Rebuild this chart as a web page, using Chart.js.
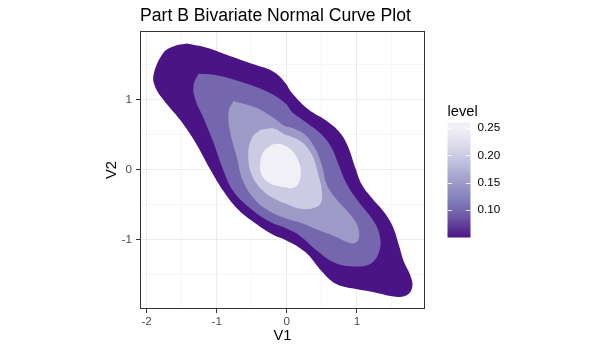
<!DOCTYPE html>
<html>
<head>
<meta charset="utf-8">
<script src="https://cdn.jsdelivr.net/npm/chart.js@4.4.1/dist/chart.umd.min.js"></script>
<style>
  html, body { margin: 0; padding: 0; background: #fff; }
</style>
</head>
<body>
<canvas id="densityChart" width="614" height="353"></canvas>
<script>
// axis limits, labelled ticks and minor grid breaks
const xLimits = [-2.094, 1.971];
const yLimits = [-1.985, 1.98];
const xTicks = [-2, -1, 0, 1];
const yTicks = [-1, 0, 1];
const xMinor = [-1.5, -0.5, 0.5, 1.5];
const yMinor = [-1.5, -0.5, 0.5, 1.5];

// contour levels (outer -> inner) and the legend breaks
const levels = [0.05, 0.10, 0.15, 0.20, 0.25];
const legendBreaks = [0.10, 0.15, 0.20, 0.25];

// contour outlines, [V1, V2] pairs
const contour05 = [
  [-1.43, 1.80], [-1.14, 1.74], [-0.86, 1.64], [-0.52, 1.52], [-0.19, 1.40],
  [-0.02, 1.24], [0.07, 1.10], [0.31, 0.86], [0.55, 0.71], [0.74, 0.55],
  [0.86, 0.36], [0.98, 0.02], [1.07, -0.21], [1.21, -0.40], [1.40, -0.62],
  [1.52, -0.83], [1.60, -1.08], [1.67, -1.31], [1.76, -1.50], [1.79, -1.67],
  [1.71, -1.79], [1.55, -1.81], [1.21, -1.74], [0.93, -1.69], [0.69, -1.62],
  [0.50, -1.45], [0.26, -1.17], [-0.02, -1.00], [-0.19, -0.93], [-0.48, -0.74],
  [-0.71, -0.55], [-0.90, -0.31], [-1.10, 0.02], [-1.31, 0.40], [-1.52, 0.71],
  [-1.76, 1.00], [-1.88, 1.19], [-1.90, 1.36], [-1.76, 1.67], [-1.62, 1.76],
  [-1.43, 1.80]
];
const contour10 = [
  [-1.26, 1.37], [-1.00, 1.35], [-0.67, 1.26], [-0.29, 1.12], [-0.02, 0.95],
  [0.07, 0.83], [0.26, 0.69], [0.50, 0.50], [0.64, 0.31], [0.74, 0.07],
  [0.86, -0.21], [1.02, -0.45], [1.21, -0.69], [1.31, -0.88], [1.33, -1.12],
  [1.21, -1.33], [0.98, -1.38], [0.69, -1.33], [0.45, -1.17], [0.17, -0.93],
  [-0.02, -0.83], [-0.24, -0.74], [-0.52, -0.55], [-0.76, -0.31], [-0.90, -0.02],
  [-1.05, 0.40], [-1.19, 0.74], [-1.31, 1.02], [-1.33, 1.21], [-1.26, 1.37]
];
const contour15 = [
  [-0.76, 0.98], [-0.43, 0.88], [-0.19, 0.74], [-0.02, 0.62], [0.07, 0.60],
  [0.26, 0.50], [0.40, 0.31], [0.50, 0.07], [0.57, -0.21], [0.69, -0.40],
  [0.93, -0.67], [1.02, -0.83], [1.02, -1.00], [0.93, -1.05], [0.69, -0.95],
  [0.45, -0.86], [0.21, -0.76], [-0.02, -0.69], [-0.19, -0.62], [-0.43, -0.45],
  [-0.62, -0.17], [-0.71, 0.17], [-0.81, 0.55], [-0.83, 0.83], [-0.76, 0.98]
];
const contour20 = [
  [-0.38, 0.57], [-0.19, 0.59], [-0.02, 0.50], [0.05, 0.48], [0.21, 0.40],
  [0.36, 0.21], [0.45, -0.07], [0.50, -0.31], [0.48, -0.48], [0.36, -0.55],
  [0.17, -0.55], [-0.02, -0.48], [-0.10, -0.45], [-0.33, -0.31], [-0.50, -0.07],
  [-0.55, 0.21], [-0.50, 0.45], [-0.38, 0.57]
];
const contour25 = [
  [-0.21, 0.36], [-0.10, 0.37], [-0.02, 0.34], [0.08, 0.27], [0.16, 0.14],
  [0.20, -0.02], [0.17, -0.19], [0.08, -0.26], [-0.02, -0.25], [-0.24, -0.19],
  [-0.36, -0.07], [-0.38, 0.10], [-0.33, 0.26], [-0.21, 0.36]
];
const contours = [contour05, contour10, contour15, contour20, contour25];

// Purples (7), dark -> light, as used by the fill scale
const purples = ["#4A1486", "#6A51A3", "#807DBA", "#9E9AC8", "#BCBDDC", "#DADAEB", "#F2F0F7"];
const bandColors = ["#4A1486", "#7567AE", "#9E9AC8", "#CBCBE3", "#F2F0F7"];

const FONT = "'Liberation Sans', Arial, Helvetica, sans-serif";

const datasets = contours.map((pts, i) => ({
  label: "level " + levels[i],
  data: pts.map(p => ({ x: p[0], y: p[1] })),
  showLine: true,
  fill: "shape",
  tension: 0.4,
  backgroundColor: bandColors[i],
  borderColor: "rgba(0,0,0,0)",
  borderWidth: 0,
  pointRadius: 0,
  order: contours.length - 1 - i
}));

function axisOpts(lim, major, minor, title) {
  const isMajor = v => major.includes(v);
  return {
    type: "linear",
    min: lim[0],
    max: lim[1],
    bounds: "data",
    afterBuildTicks: s => {
      s.ticks = major.concat(minor).sort((a, b) => a - b).map(v => ({ value: v }));
    },
    title: { display: true, text: title, color: "#000", font: { family: FONT, size: 14.7 } },
    border: { display: false },
    grid: {
      color: c => isMajor(c.tick.value) ? "#EBEBEB" : "#F4F4F4",
      lineWidth: c => isMajor(c.tick.value) ? 1 : 0.8,
      tickColor: c => isMajor(c.tick.value) ? "#333333" : "rgba(0,0,0,0)",
      tickLength: 4
    },
    ticks: {
      autoSkip: false,
      maxRotation: 0,
      color: "#4D4D4D",
      font: { family: FONT, size: 11.7 },
      callback: v => isMajor(v) ? String(v) : ""
    }
  };
}

const xAxis = axisOpts(xLimits, xTicks, xMinor, "V1");
xAxis.position = "bottom";
xAxis.title.padding = { top: 0, bottom: 8 };
xAxis.ticks.padding = 2;
xAxis.afterFit = s => { s.height = 44; };

const yAxis = axisOpts(yLimits, yTicks, yMinor, "V2");
yAxis.position = "left";
yAxis.title.padding = { top: 103, bottom: 0 };
yAxis.ticks.padding = 4;
yAxis.afterFit = s => { s.width = 140; };

// panel border, title and colour bar legend
const ggExtras = {
  id: "ggExtras",
  afterDraw(chart) {
    const { ctx, chartArea: a } = chart;
    ctx.save();
    ctx.strokeStyle = "#333333";
    ctx.lineWidth = 1;
    ctx.strokeRect(a.left + 0.5, a.top + 0.5, a.right - a.left - 1, a.bottom - a.top - 1);

    ctx.fillStyle = "#000";
    ctx.font = "17.6px " + FONT;
    ctx.textBaseline = "alphabetic";
    ctx.textAlign = "left";
    ctx.fillText("Part B Bivariate Normal Curve Plot", a.left, 20.5);

    // colour bar
    const barL = 447.5, barW = 23, barT = 122.5, barB = 237.5;
    const lo = levels[0], hi = levels[levels.length - 1];
    const yLo = 237.3, yHi = 128;
    const valY = v => yLo - (v - lo) / (hi - lo) * (yLo - yHi);
    const grad = ctx.createLinearGradient(0, yLo, 0, yHi);
    purples.forEach((c, i) => grad.addColorStop(i / (purples.length - 1), c));
    ctx.fillStyle = grad;
    ctx.fillRect(barL, barT, barW, barB - barT);

    ctx.strokeStyle = "rgba(255,255,255,0.85)";
    ctx.lineWidth = 1;
    ctx.font = "11.7px " + FONT;
    ctx.fillStyle = "#000";
    ctx.textBaseline = "middle";
    legendBreaks.forEach(v => {
      const y = Math.round(valY(v)) + 0.5;
      ctx.beginPath();
      ctx.moveTo(barL, y); ctx.lineTo(barL + 4.6, y);
      ctx.moveTo(barL + barW - 4.6, y); ctx.lineTo(barL + barW, y);
      ctx.stroke();
      ctx.fillText(v.toFixed(2), 477.5, valY(v));
    });

    ctx.font = "14.7px " + FONT;
    ctx.textBaseline = "alphabetic";
    ctx.fillText("level", barL, 116);
    ctx.restore();
  }
};

new Chart(document.getElementById("densityChart"), {
  type: "scatter",
  data: { datasets },
  options: {
    responsive: false,
    animation: false,
    events: [],
    layout: { padding: { left: 0, right: 189, top: 31, bottom: 0 } },
    scales: { x: xAxis, y: yAxis },
    plugins: {
      legend: { display: false },
      title: { display: false },
      tooltip: { enabled: false }
    }
  },
  plugins: [ggExtras]
});
</script>
</body>
</html>
